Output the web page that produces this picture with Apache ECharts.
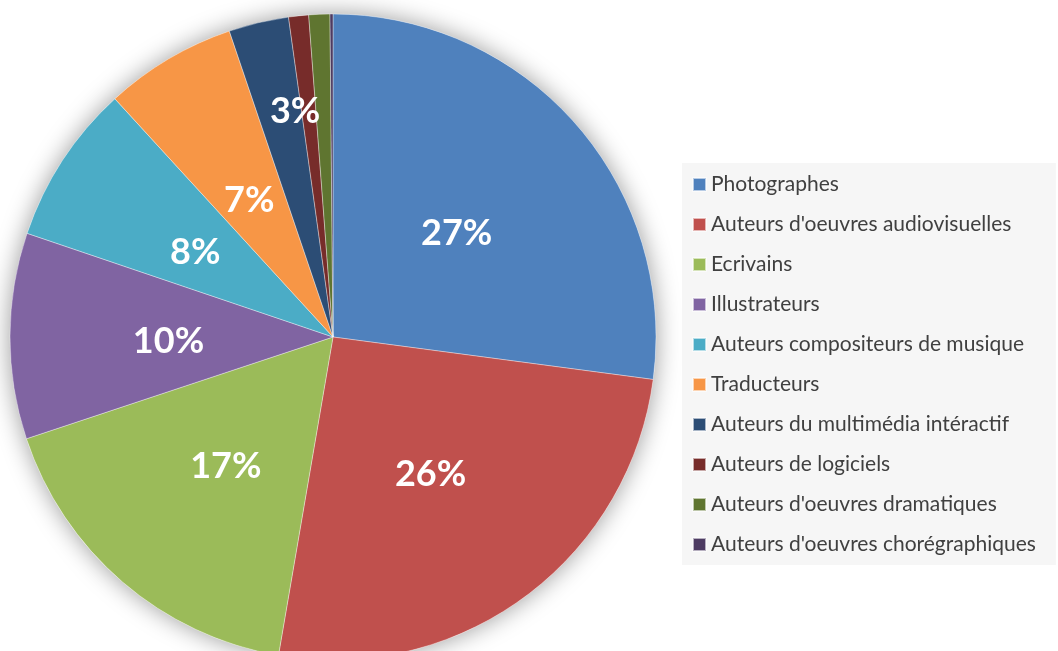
<!DOCTYPE html>
<html>
<head>
<meta charset="utf-8">
<script src="https://cdn.jsdelivr.net/npm/echarts@6/dist/echarts.min.js"></script>
<style>
  html, body { margin: 0; padding: 0; background: #fff; }
  #graf { width: 1058px; height: 651px; }
</style>
</head>
<body>
<div id="graf"></div>
<script>
// categorias y valores (en %)
var categorias = ['Photographes', "Auteurs d'oeuvres audiovisuelles", 'Ecrivains', 'Illustrateurs',
  'Auteurs compositeurs de musique', 'Traducteurs', 'Auteurs du multimédia intéractif',
  'Auteurs de logiciels', "Auteurs d'oeuvres dramatiques", "Auteurs d'oeuvres chorégraphiques"];
var valores = [27.1, 25.6, 17.2, 10.3, 8.0, 6.6, 3.0, 1.0, 1.05, 0.15];
var colores = ['#4F81BD', '#C0504D', '#9BBB59', '#8064A2', '#4BACC6', '#F79646',
  '#2C4D75', '#772C2A', '#5F7530', '#4D3B62'];

var myChart = echarts.init(document.getElementById('graf'));

var datos = categorias.map(function (c, i) {
  var d = { name: c, value: valores[i], itemStyle: { color: colores[i] } };
  // la etiqueta del 3% esta mas hacia fuera
  if (i === 6) d.label = { offset: [0, -66] };
  return d;
});

var option = {
  animation: false,
  color: colores,
  legend: {
    orient: 'vertical',
    left: 682,
    top: 163,
    backgroundColor: '#f6f6f6',
    padding: [11, 20, 10, 10],
    itemWidth: 13,
    itemHeight: 13,
    itemGap: 19,
    icon: 'rect',
    data: categorias,
    textStyle: {
      fontFamily: 'Lato',
      fontSize: 21,
      color: '#404040'
    }
  },
  series: [
    {
      // sombra del pastel
      type: 'pie',
      silent: true,
      center: [333, 337],
      radius: 323,
      label: { show: false },
      itemStyle: {
        color: '#fff',
        shadowBlur: 24,
        shadowColor: 'rgba(0,0,0,0.4)'
      },
      data: [{ name: '', value: 1 }]
    },
    {
      name: 'autores',
      type: 'pie',
      center: [333, 337],
      radius: 323,
      startAngle: 90,
      clockwise: true,
      itemStyle: {
        borderColor: 'rgba(255,255,255,0.6)',
        borderWidth: 0.6
      },
      label: {
        show: true,
        position: 'inside',
        offset: [0, 5],
        color: '#fff',
        fontFamily: 'Lato',
        fontWeight: 'bold',
        fontSize: 36,
        formatter: function (p) {
          return p.percent >= 2 ? Math.round(p.percent) + '%' : '';
        }
      },
      labelLine: { show: false },
      data: datos
    }
  ]
};

myChart.setOption(option);
</script>
</body>
</html>
